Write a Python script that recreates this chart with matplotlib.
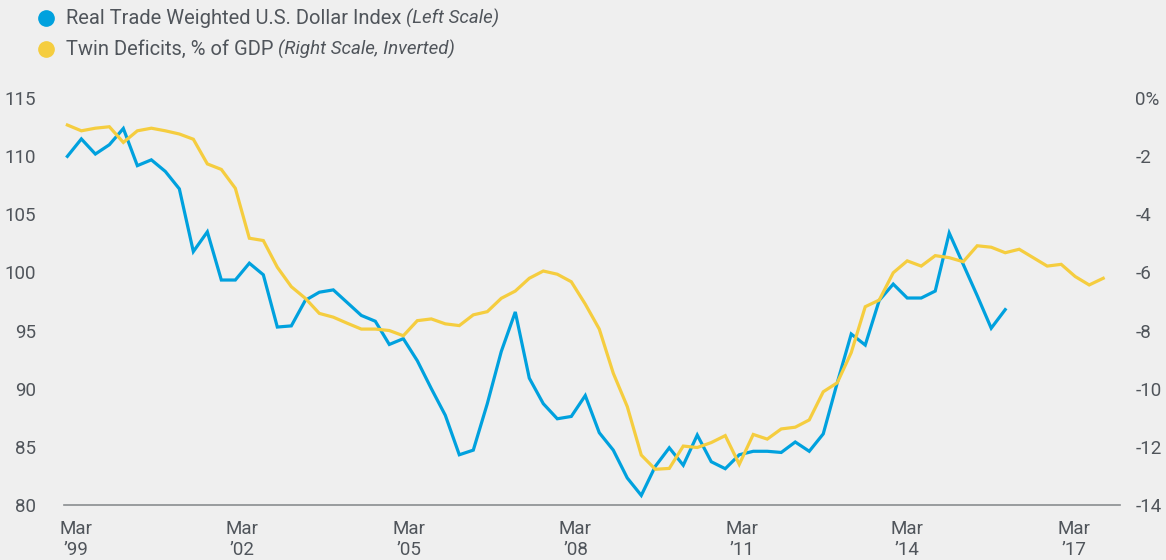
import matplotlib
matplotlib.use("Agg")
import matplotlib.pyplot as plt
from matplotlib.lines import Line2D

plt.rcParams['font.family'] = ['Roboto', 'DejaVu Sans']

# quarterly observations, Q1 1999 onward
dollar_index = [110.0, 111.5, 110.2, 111.0, 112.4, 109.2, 109.7, 108.7, 107.2, 101.8,
                103.5, 99.35, 99.35, 100.8, 99.8, 95.3, 95.4, 97.6, 98.3, 98.5,
                97.4, 96.3, 95.8, 93.8, 94.3, 92.4, 90.0, 87.7, 84.3, 84.7,
                88.7, 93.2, 96.6, 90.9, 88.7, 87.4, 87.6, 89.4, 86.2, 84.7,
                82.3, 80.8, 83.3, 84.9, 83.4, 86.0, 83.7, 83.1, 84.3, 84.6,
                84.6, 84.5, 85.4, 84.6, 86.1, 90.5, 94.7, 93.75, 97.6, 99.0,
                97.8, 97.8, 98.4, 103.4, 100.7, 98.0, 95.2, 96.8]

twin_deficits = [-0.92, -1.12, -1.03, -0.98, -1.52, -1.12, -1.03, -1.12, -1.23, -1.41,
                 -2.26, -2.45, -3.10, -4.82, -4.90, -5.82, -6.49, -6.89, -7.41, -7.54,
                 -7.75, -7.95, -7.95, -8.0, -8.18, -7.66, -7.60, -7.77, -7.83, -7.46,
                 -7.35, -6.89, -6.64, -6.20, -5.95, -6.06, -6.32, -7.09, -7.95, -9.47,
                 -10.62, -12.29, -12.78, -12.75, -11.98, -12.03, -11.86, -11.62, -12.61, -11.58,
                 -11.74, -11.39, -11.33, -11.08, -10.11, -9.80, -8.76, -7.18, -6.95, -6.01,
                 -5.60, -5.78, -5.42, -5.49, -5.63, -5.08, -5.13, -5.32, -5.20, -5.49,
                 -5.78, -5.72, -6.14, -6.43, -6.20]

tick_pos = [0.62, 12.5, 24.4, 36.3, 48.2, 60.0, 71.9]
tick_labels = ["Mar\n\u201999", "Mar\n\u201902", "Mar\n\u201905", "Mar\n\u201908",
               "Mar\n\u201911", "Mar\n\u201914", "Mar\n\u201917"]
left_ticks = [80, 85, 90, 95, 100, 105, 110, 115]
right_ticks = [0, -2, -4, -6, -8, -10, -12, -14]
right_labels = ["0%", "-2", "-4", "-6", "-8", "-10", "-12", "-14"]

BLUE = "#00a1de"
YELLOW = "#f5cd3f"
BG = "#efefef"
TXT = "#50555b"

fig = plt.figure(figsize=(11.66, 5.6), dpi=100, facecolor=BG)
ax = fig.add_axes([64 / 1166, (560 - 504.7) / 560, (1120 - 64) / 1166, (504.7 - 98.3) / 560])
ax.set_facecolor(BG)
ax2 = ax.twinx()

ax.plot(range(len(dollar_index)), dollar_index, color=BLUE, lw=2.3, solid_joinstyle='miter')
ax2.plot(range(len(twin_deficits)), twin_deficits, color=YELLOW, lw=2.3, solid_joinstyle='miter')

ax.set_xlim(-0.24, 75.2)
ax.set_ylim(80, 115)
ax2.set_ylim(-14, 0)

ax.set_xticks(tick_pos)
ax.set_xticklabels(tick_labels, fontsize=13.5, color=TXT, linespacing=1.2)
ax.set_yticks(left_ticks)
ax.set_yticklabels([str(v) for v in left_ticks], fontsize=13.5, color=TXT)
ax2.set_yticks(right_ticks)
ax2.set_yticklabels(right_labels, fontsize=13.5, color=TXT)

for a in (ax, ax2):
    for s in ("top", "left", "right"):
        a.spines[s].set_visible(False)
    a.tick_params(length=0)
ax.spines["bottom"].set_color("#8a8d90")
ax.spines["bottom"].set_linewidth(1.2)
ax2.spines["bottom"].set_visible(False)
ax.tick_params(axis='x', pad=11)
ax.tick_params(axis='y', pad=20)
ax2.tick_params(axis='y', pad=11)

# legend
renderer = fig.canvas.get_renderer()
entries = [(BLUE, "Real Trade Weighted U.S. Dollar Index ", "(Left Scale)", 18),
           (YELLOW, "Twin Deficits, % of GDP ", "(Right Scale, Inverted)", 49)]
for col, main, note, ypix in entries:
    yf = 1 - ypix / 560
    fig.add_artist(Line2D([46 / 1166], [yf], marker='o', markersize=11,
                          color=col, linestyle='none'))
    t = fig.text(66 / 1166, yf, main, fontsize=14.5, color=TXT, va='center', ha='left')
    bb = t.get_window_extent(renderer)
    fig.text(bb.x1 / 1166, yf, note, fontsize=13.5, color=TXT, va='center',
             ha='left', style='italic')

fig.savefig("out.png", dpi=100, facecolor=BG)
